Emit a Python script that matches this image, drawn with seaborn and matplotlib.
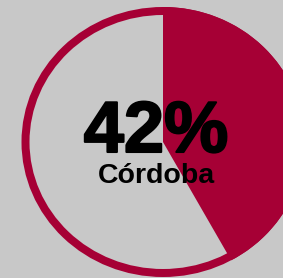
import numpy as np
import matplotlib
matplotlib.use("Agg")
import matplotlib.pyplot as plt
import matplotlib.patheffects as pe
import seaborn as sns
from matplotlib.patches import Ellipse

# data
share = 42
label = "Córdoba"

bg = "#c8c8c8"
red = "#a60035"

sns.set_theme(style="white", rc={"figure.facecolor": bg, "axes.facecolor": bg})
plt.rcParams["font.family"] = ["Liberation Sans", "DejaVu Sans"]

fig = plt.figure(figsize=(2.83, 2.78), dpi=100)
ax = fig.add_axes([0, 0, 1, 1])
ax.set_xlim(0, 283)
ax.set_ylim(278, 0)
ax.axis("off")

cx, cy = 163, 142
rx, ry = 141.5, 135
ring = 8

# filled slice, clockwise from 12 o'clock
t = np.linspace(0, 2 * np.pi * share / 100, 200)
xs = np.concatenate([[cx], cx + rx * np.sin(t), [cx]])
ys = np.concatenate([[cy], cy - ry * np.cos(t), [cy]])
ax.fill(xs, ys, color=red, lw=0)

# outline ring
ax.add_patch(Ellipse((cx, cy), 2 * (rx - ring / 2), 2 * (ry - ring / 2),
                     fill=False, ec=red, lw=ring * 0.72))

ax.text(156, 152, f"{share}%", ha="center", va="baseline",
        fontsize=52, fontweight="bold", color="black",
        path_effects=[pe.withStroke(linewidth=1.5, foreground="black")])
ax.text(156.5, 183, label, ha="center", va="baseline",
        fontsize=20.5, fontweight="bold", color="black")

fig.savefig("out.png", dpi=100, facecolor=bg)
